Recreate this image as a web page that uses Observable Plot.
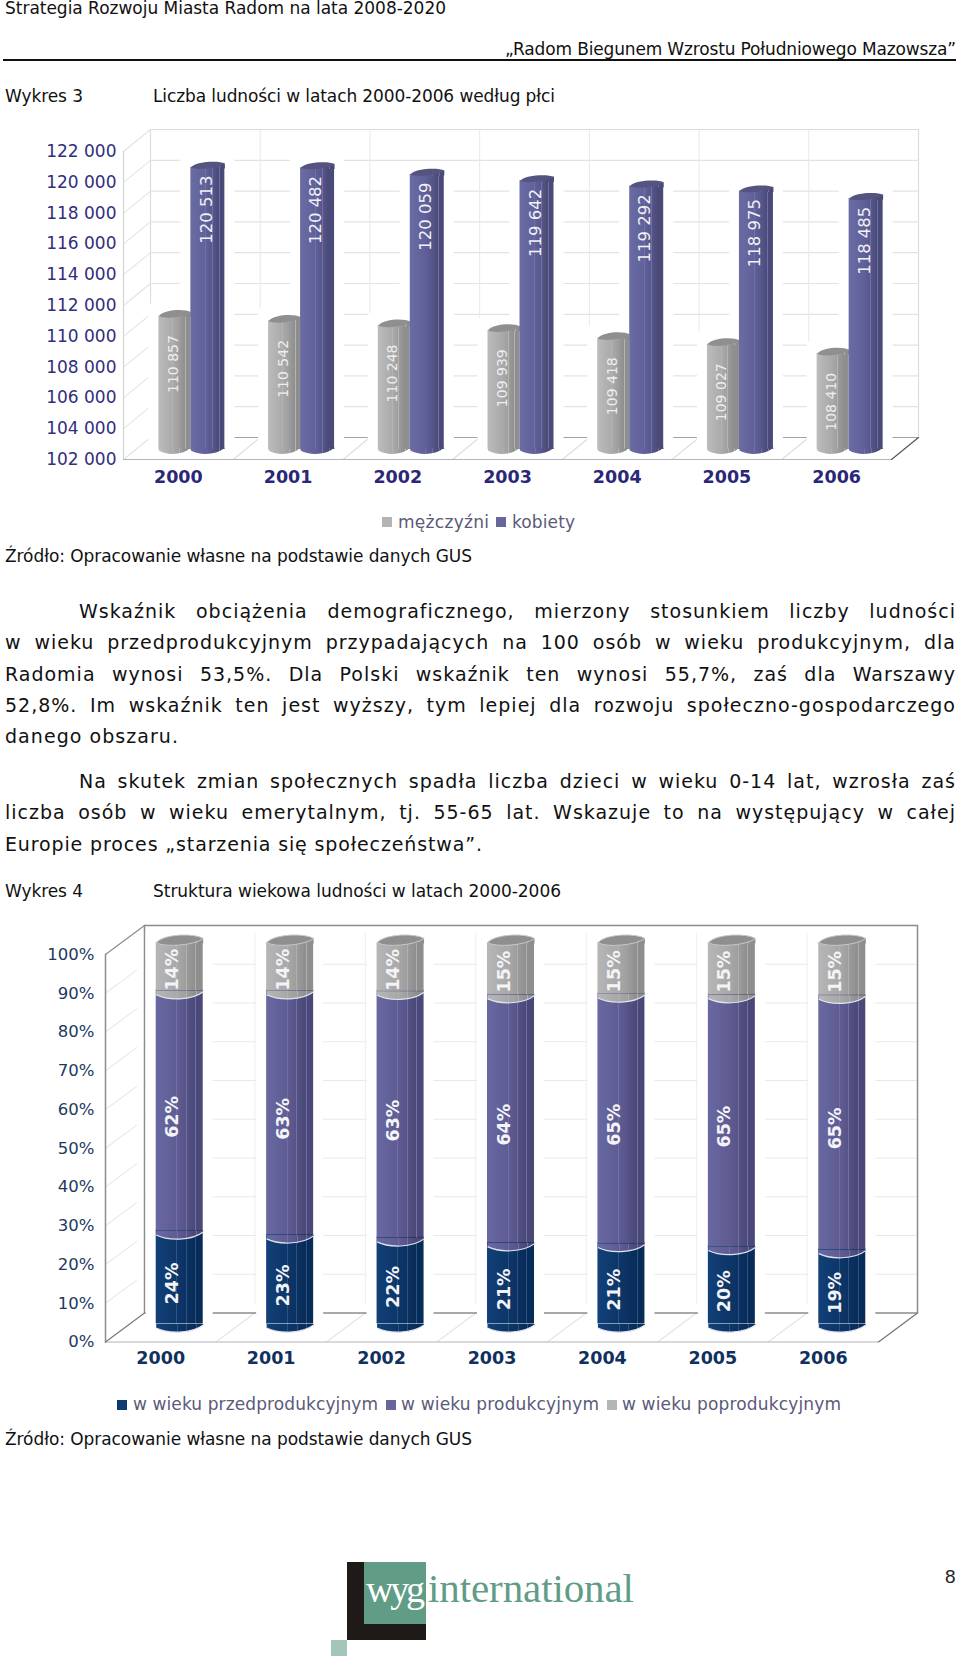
<!DOCTYPE html>
<html lang="pl">
<head>
<meta charset="utf-8">
<script src="https://cdn.jsdelivr.net/npm/d3@7"></script>
<script src="https://cdn.jsdelivr.net/npm/@observablehq/plot@0.6"></script>
<style>
html,body{margin:0;padding:0;background:#fff}
#page{position:relative;width:960px;height:1658px;overflow:hidden;font-family:"DejaVu Sans",sans-serif;color:#111}
#page svg.chart,#page>div>svg{position:absolute;left:0}
.t{position:absolute;white-space:pre}
</style>
</head>
<body>
<svg width="0" height="0" style="position:absolute">
<defs id="defs"></defs>
</svg>
<div id="page"></div>
<script>
// ---------- data ----------
const years = ["2000","2001","2002","2003","2004","2005","2006"];
const men   = [110857,110542,110248,109939,109418,109027,108410];
const women = [120513,120482,120059,119642,119292,118975,118485];
const populationTicks = [102000,104000,106000,108000,110000,112000,114000,116000,118000,120000,122000];

const young   = [24,23,22,21,21,20,19];
const working = [62,63,63,64,65,65,65];
const old     = [14,14,14,15,15,15,15];
const shareTicks = [0,.1,.2,.3,.4,.5,.6,.7,.8,.9,1];

const paragraph1 = [
  "Wskaźnik obciążenia demograficznego, mierzony stosunkiem liczby ludności",
  "w wieku przedprodukcyjnym przypadających na 100 osób w wieku produkcyjnym, dla",
  "Radomia wynosi 53,5%. Dla Polski wskaźnik ten wynosi 55,7%, zaś dla Warszawy",
  "52,8%. Im wskaźnik ten jest wyższy, tym lepiej dla rozwoju społeczno-gospodarczego",
  "danego obszaru."
];
const paragraph2 = [
  "Na skutek zmian społecznych spadła liczba dzieci w wieku 0-14 lat, wzrosła zaś",
  "liczba osób w wieku emerytalnym, tj. 55-65 lat. Wskazuje to na występujący w całej",
  "Europie proces „starzenia się społeczeństwa”."
];

// ---------- page text ----------
const page = document.getElementById("page");
function put(str,x,base,{size=17,width,color="#111",weight="normal",family='"DejaVu Sans"',spread="letter"}={}){
  const el=document.createElement("div");
  el.className="t";
  el.textContent=str;
  const L=Math.round(size*1.4);
  el.style.cssText=`left:${x}px;top:${base-L/2-.346*size}px;line-height:${L}px;font-size:${size}px;color:${color};font-weight:${weight};font-family:${family}`;
  page.appendChild(el);
  if(width){
    const w=el.getBoundingClientRect().width;
    if(spread==="letter") el.style.letterSpacing=((width-w)/(str.length-1))+"px";
    else{
      el.style.letterSpacing=spread+"px";
      const w2=el.getBoundingClientRect().width;
      const gaps=str.split(" ").length-1;
      el.style.wordSpacing=((width-w2)/gaps)+"px";
    }
  }
  return el;
}
function box(x,y,w,h,c){
  const el=document.createElement("div");
  el.style.cssText=`position:absolute;left:${x}px;top:${y}px;width:${w}px;height:${h}px;background:${c}`;
  page.appendChild(el);
}
put("Strategia Rozwoju Miasta Radom na lata 2008-2020",5,14,{size:17,width:441});
put("„Radom Biegunem Wzrostu Południowego Mazowsza”",505,55,{size:17,width:451});
box(3,59,953,2,"#111");
put("Wykres 3",5,102,{size:17,width:78});
put("Liczba ludności w latach 2000-2006 według płci",153,102,{size:17,width:402});
put("Źródło: Opracowanie własne na podstawie danych GUS",5,562,{size:17,width:467});

const bodyLS=1.0, lineBases1=[618,649.5,681,712.5,743], lineBases2=[788,819.5,851];
paragraph1.forEach((s,i)=>{
  if(i===4) put(s,5,lineBases1[i],{size:19,width:173});
  else put(s,i===0?79:5,lineBases1[i],{size:19,width:i===0?877:951,spread:bodyLS});
});
paragraph2.forEach((s,i)=>{
  if(i===2) put(s,5,lineBases2[i],{size:19,width:477});
  else put(s,i===0?79:5,lineBases2[i],{size:19,width:i===0?877:951,spread:bodyLS});
});
put("Wykres 4",5,897,{size:17,width:78});
put("Struktura wiekowa ludności w latach 2000-2006",153,897,{size:17,width:408});
put("Źródło: Opracowanie własne na podstawie danych GUS",5,1445,{size:17,width:467});

// legends
const legendInk="#5a5a7a";
box(382,517,10,10,"#b4b4b4"); put("mężczyźni",398,528,{size:17,width:91,color:legendInk});
box(496,517,10,10,"#66659c"); put("kobiety",512,528,{size:17,width:63,color:legendInk});
box(117,1400,10,10,"#0f3a70"); put("w wieku przedprodukcyjnym",133,1410,{size:17,width:245,color:legendInk});
box(386,1400,10,10,"#66659c"); put("w wieku produkcyjnym",401,1410,{size:17,width:198,color:legendInk});
box(607,1400,10,10,"#b4b4b4"); put("w wieku poprodukcyjnym",622,1410,{size:17,width:219,color:legendInk});

// logo and page number
box(347,1562,79,78,"#1d1a18");
box(364,1562,62,62,"#609c86");
box(331,1640,16,16,"#a3c6b9");
put("wyg",366,1603,{size:38,width:59,color:"#fff",family:'"Liberation Serif"'});
put("international",428,1603,{size:41,width:206,color:"#609c86",family:'"Liberation Serif"'});
put("8",945,1583,{size:19,color:"#222",family:'"Liberation Sans"'});

// ---------- column shading ----------
function gradient(id,stops){
  const g=document.createElementNS("http://www.w3.org/2000/svg","linearGradient");
  g.id=id;
  stops.forEach(([o,c])=>{
    const s=document.createElementNS("http://www.w3.org/2000/svg","stop");
    s.setAttribute("offset",o);s.setAttribute("stop-color",c);g.appendChild(s);
  });
  document.getElementById("defs").appendChild(g);
}
function fluted(left,mid,right,line){
  return [[0,left],[.44,mid],[.44,line],[.46,line],[.46,mid],[.64,d3.interpolateRgb(mid,right)(.4)],
          [.64,line],[.66,line],[.66,d3.interpolateRgb(mid,right)(.5)],[.84,right],[.84,line],[.86,line],[.86,right],[1,right]];
}
gradient("gMale",fluted("#bcbcbc","#aaaaaa","#8e8e8e","#b4b4b4"));
gradient("gFemale",fluted("#6c6ca4","#60609a","#4a4a78","#7070a8"));
gradient("gOld",fluted("#b6b6b6","#a8a8a8","#8e8e8e","#b0b0b0"));
gradient("gWork",fluted("#6a68a2","#5e5c92","#4a4876","#726fa8"));
gradient("gYoung",fluted("#124078","#0d3668","#082c58","#2a5488"));

// symbols drawn at a column edge: the dot mark puts them on the scales
const capSym=(w,h,t)=>({draw(c){
  c.moveTo(-w/2,t);
  c.bezierCurveTo(-w/3,-h*1.25,w/3,-h*1.35,w/2,-t);
  c.bezierCurveTo(w/3,h*.85,-w/3,h*1.35,-w/2,t);
  c.closePath();
}});
const lipSym=(w,t)=>({draw(c){
  c.moveTo(-w/2,t);c.lineTo(w/2,-t);c.lineTo(w/2,t+1);c.lineTo(-w/2,t+1);c.closePath();
}});
const baseSym=(w,top,l,lo,r)=>({draw(c){
  c.moveTo(-w/2,-top);c.lineTo(-w/2,l);
  c.bezierCurveTo(-w/4,lo,w/4,lo,w/2,r);
  c.lineTo(w/2,-top);c.closePath();
}});
const seamSym=(w,l,lo,r)=>({draw(c){
  c.moveTo(-w/2,l);c.bezierCurveTo(-w/4,lo,w/4,lo,w/2,r);
}});
const line={draw(c,l){c.moveTo(0,0);c.lineTo(0,-l);}};

// ---------- chart 3: population by sex ----------
function chart3(){
  const top=110,H=390,frontL=123,frontR=891,yTop=151,yBot=459;
  const band=(frontR-frontL)/7, half=band/2;
  const depthX=27,depthY=22,depthLen=Math.hypot(depthX,depthY),angle=Math.atan2(depthX,depthY)*180/Math.PI;
  const rows=k=>years.map((year,i)=>({year,value:k[i]}));
  const lift=-9;
  const insets=(cx,w)=>({insetLeft:half+cx-w/2,insetRight:half-cx-w/2});
  const column=(data,cx,w,fill,capFill,capH)=>[
    Plot.barY(data,{x:"year",y1:102000,y2:"value",fill,dy:lift,...insets(cx,w),insetTop:2,insetBottom:1}),
    Plot.dot(data,{x:"year",y:()=>102000,symbol:baseSym(w,2,0,5,-3),fill,dx:cx,dy:lift}),
    Plot.dot(data,{x:"year",y:"value",symbol:lipSym(w,2),fill,dx:cx,dy:lift}),
    Plot.dot(data,{x:"year",y:"value",symbol:capSym(w,capH,2),fill:capFill,dx:cx,dy:lift}),
  ];
  const halo=(data,cx,w)=>Plot.barY(data,{x:"year",y1:102000,y2:"value",fill:"#fff",dy:lift,...insets(cx,w+20),insetTop:-10,insetBottom:-4});
  const maleData=rows(men),femaleData=rows(women);
  const svg=Plot.plot({
    width:960,height:H,
    marginLeft:frontL,marginRight:960-frontR,marginTop:yTop-top,marginBottom:top+H-yBot,
    style:{background:"none",fontFamily:'"DejaVu Sans",sans-serif',overflow:"visible"},
    x:{type:"band",domain:years,padding:0,round:false,label:null},
    y:{domain:[102000,122000],label:null},
    marks:[
      Plot.ruleY(populationTicks,{dx:depthX,dy:-depthY,stroke:"#e3e3e6",strokeWidth:1.2}),
      Plot.ruleX(years,{x:d=>d,y1:102000,y2:122000,dx:depthX+half,dy:-depthY,stroke:"#e8e8ea",strokeWidth:1}),
      Plot.frame({dx:depthX,dy:-depthY,anchor:"right",stroke:"#dcdcdc",strokeWidth:1.2}),
      Plot.frame({dx:depthX,dy:-depthY,anchor:"top",stroke:"#dcdcdc",strokeWidth:1.2}),
      Plot.frame({dx:depthX,dy:-depthY,anchor:"left",stroke:"#dcdcdc",strokeWidth:1.2}),
      Plot.vector(populationTicks,{y:d=>d,frameAnchor:"left",anchor:"start",length:depthLen,rotate:angle,shape:line,stroke:"#e2e2e2",strokeWidth:1}),
      Plot.vector(years,{x:d=>d,frameAnchor:"bottom",anchor:"start",length:depthLen,rotate:angle,shape:line,dx:half,stroke:"#dcdce0",strokeWidth:1}),
      Plot.frame({anchor:"left",stroke:"#d4d4d4",strokeWidth:1.2}),
      Plot.frame({anchor:"bottom",stroke:"#b4b4bc",strokeWidth:1.2}),
      Plot.frame({dx:depthX,dy:-depthY,anchor:"bottom",stroke:"#a2a2a6",strokeWidth:1.2}),
      Plot.vector([years[6]],{frameAnchor:"bottom-right",anchor:"start",length:depthLen,rotate:angle,shape:line,stroke:"#555",strokeWidth:1}),
      halo(maleData,-3.5,32),halo(femaleData,29.5,34),
      ...column(maleData,-3.5,32,"url(#gMale)","#8f8f8f",4),
      ...column(femaleData,29.5,34,"url(#gFemale)","#55537f",3.5),
      Plot.text(maleData,{x:"year",y:"value",text:d=>d3.format(",")(d.value).replace(","," "),rotate:-90,textAnchor:"end",lineAnchor:"middle",dx:-5,dy:12,fill:"#eeeeee",fontSize:14}),
      Plot.text(femaleData,{x:"year",y:"value",text:d=>d3.format(",")(d.value).replace(","," "),rotate:-90,textAnchor:"end",lineAnchor:"middle",dx:28,dy:1,fill:"#f2f2f6",fontSize:16.5}),
      Plot.axisY(populationTicks,{tickSize:0,tickPadding:7,tickFormat:d=>d3.format(",")(d).replace(","," "),fontSize:17,fill:"#312e7c",label:null}),
      Plot.axisX({tickSize:0,tickPadding:11,fontSize:17.5,fontWeight:"bold",fill:"#2a2778",label:null}),
    ]
  });
  svg.style.top=top+"px";
  svg.setAttribute("class",(svg.getAttribute("class")||"")+" chart");
  page.appendChild(svg);
}

// ---------- chart 4: age structure ----------
function chart4(){
  const top=900,H=490,frontL=105,frontR=878,yTop=954,yBot=1341.5;
  const band=(frontR-frontL)/7, half=band/2;
  const depthX=39,depthY=29,depthLen=Math.hypot(depthX,depthY),angle=Math.atan2(depthX,depthY)*180/Math.PI;
  const cx=19,w=47,lift=-14;
  const rows=[];
  years.forEach((year,i)=>{
    const total=young[i]+working[i]+old[i];
    let acc=0;
    [["young",young[i]],["working",working[i]],["old",old[i]]].forEach(([group,value])=>{
      rows.push({year,group,value,y1:acc/total,y2:(acc+value)/total});
      acc+=value;
    });
  });
  const of=g=>rows.filter(d=>d.group===g);
  const yo=of("young"),wo=of("working"),ol=of("old");
  const insets={insetLeft:half+cx-w/2,insetRight:half-cx-w/2};
  const body=(data,fill,it)=>Plot.barY(data,{x:"year",y1:"y1",y2:"y2",fill,dy:lift,...insets,insetTop:it,insetBottom:4});
  const base=(data,fill)=>Plot.dot(data,{x:"year",y:"y1",symbol:baseSym(w,4,0,6,-3),fill,dx:cx,dy:lift});
  const seam=data=>Plot.dot(data,{x:"year",y:"y1",symbol:seamSym(w,0,6,-3),fill:"none",stroke:"#dfe3ee",strokeWidth:1.2,dx:cx,dy:lift});
  const label=data=>Plot.text(data,{x:"year",y:d=>(d.y1+d.y2)/2,text:d=>d.value+"%",rotate:-90,lineAnchor:"middle",dx:12,dy:lift+2,fill:"#f4f4f8",fontWeight:"bold",fontSize:17.5});
  const svg=Plot.plot({
    width:960,height:H,
    marginLeft:frontL,marginRight:960-frontR,marginTop:yTop-top,marginBottom:top+H-yBot,
    style:{background:"none",fontFamily:'"DejaVu Sans",sans-serif',overflow:"visible"},
    x:{type:"band",domain:years,padding:0,round:false,label:null},
    y:{domain:[0,1],label:null},
    marks:[
      Plot.ruleY(shareTicks.slice(1,10),{dx:depthX,dy:-depthY,stroke:"#e9e9ec",strokeWidth:1.2}),
      Plot.ruleX(years.slice(0,6),{x:d=>d,y1:.02,y2:.98,dx:depthX+half,dy:-depthY,stroke:"#eeeef0",strokeWidth:1}),
      Plot.vector(shareTicks.slice(1,10),{y:d=>d,frameAnchor:"left",anchor:"start",length:depthLen*.8,rotate:angle,shape:line,stroke:"#e8e8e8",strokeWidth:1}),
      Plot.vector(years,{x:d=>d,frameAnchor:"bottom",anchor:"start",length:depthLen,rotate:angle,shape:line,dx:half,stroke:"#e3e3e6",strokeWidth:1}),
      Plot.frame({dx:depthX,dy:-depthY,stroke:"#8c8c8c",strokeWidth:1.5}),
      Plot.frame({anchor:"left",stroke:"#8c8c8c",strokeWidth:1.5}),
      Plot.frame({anchor:"bottom",stroke:"#b4b4b8",strokeWidth:1}),
      Plot.vector([1],{frameAnchor:"top-left",anchor:"start",length:depthLen,rotate:angle,shape:line,stroke:"#8c8c8c",strokeWidth:1.2}),
      Plot.vector([1],{frameAnchor:"bottom-left",anchor:"start",length:depthLen,rotate:angle,shape:line,stroke:"#7a7a7a",strokeWidth:1.2}),
      Plot.vector([1],{frameAnchor:"bottom-right",anchor:"start",length:depthLen,rotate:angle,shape:line,stroke:"#7a7a7a",strokeWidth:1.2}),
      Plot.barY(years,{x:d=>d,y1:0,y2:1,fill:"#fff",dy:lift,insetLeft:half+cx-w/2-10,insetRight:half-cx-w/2-10,insetTop:-8,insetBottom:-5}),
      body(yo,"url(#gYoung)",-5),base(yo,"url(#gYoung)"),seam(yo),
      body(wo,"url(#gWork)",-5),base(wo,"url(#gWork)"),seam(wo),
      body(ol,"url(#gOld)",2),base(ol,"url(#gOld)"),seam(ol),
      Plot.dot(ol,{x:"year",y:"y2",symbol:lipSym(w,2),fill:"url(#gOld)",dx:cx,dy:lift}),
      Plot.dot(ol,{x:"year",y:"y2",symbol:capSym(w,5.5,2),fill:"#8f8f8f",stroke:"#c8c8c8",strokeWidth:1,dx:cx,dy:lift}),
      label(yo),label(wo),label(ol),
      Plot.axisY(shareTicks,{tickSize:0,tickPadding:11,tickFormat:d3.format(".0%"),fontSize:16.5,fill:"#1c3a60",label:null}),
      Plot.axisX({tickSize:0,tickPadding:10,fontSize:17.5,fontWeight:"bold",fill:"#10305e",label:null}),
    ]
  });
  svg.style.top=top+"px";
  svg.setAttribute("class",(svg.getAttribute("class")||"")+" chart");
  page.appendChild(svg);
}
chart3();
chart4();
</script>
</body>
</html>
